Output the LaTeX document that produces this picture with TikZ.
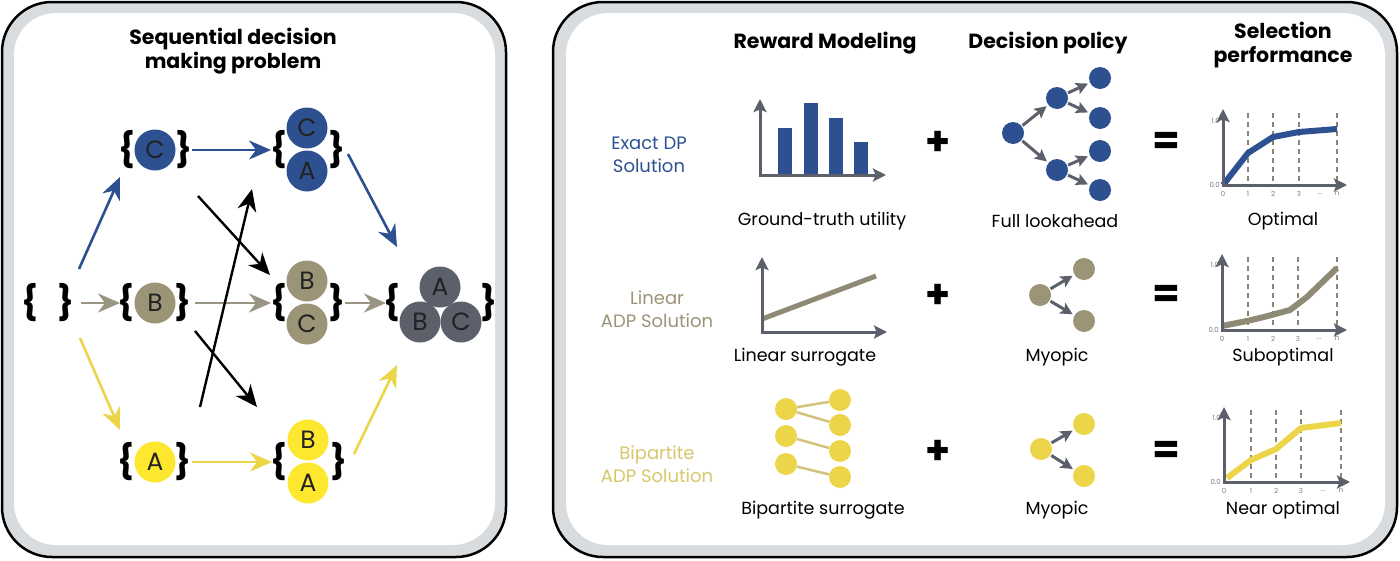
\documentclass[tikz,border=0pt]{standalone}
\usepackage{fontspec}
\setmainfont{Poppins}
\usetikzlibrary{arrows.meta}
\definecolor{blueC}{HTML}{2D5190}
\definecolor{khakiC}{HTML}{9C9476}
\definecolor{khakiA}{HTML}{9A9582}
\definecolor{yellowC}{HTML}{FDE82F}
\definecolor{yellowA}{HTML}{EDD54A}
\definecolor{darkC}{HTML}{5C606B}
\definecolor{bandC}{HTML}{D8DCDF}
\definecolor{dashC}{HTML}{8A8470}
\definecolor{lineK}{HTML}{8E8A76}
\definecolor{edgeY}{HTML}{D4C27C}
\definecolor{lblK}{HTML}{9C9476}
\definecolor{lblY}{HTML}{D8C66A}
\definecolor{txtC}{HTML}{222222}
\definecolor{tickC}{HTML}{7A7A7A}
\begin{document}
\begin{tikzpicture}[x=1pt,y=-1pt,
  brc/.style={inner sep=0pt, font=\fontsize{34}{34}\selectfont\bfseries},
  circ/.style={circle, inner sep=0pt, minimum size=41pt, font=\fontsize{25}{25}\selectfont, text=txtC},
  tipbig/.style={-{Stealth[length=22pt,width=19pt,inset=7pt]}},
  barrow/.style={tipbig, draw=blueC, line width=2.6pt},
  garrow/.style={tipbig, draw=khakiA, line width=2.6pt},
  yarrow/.style={tipbig, draw=yellowA, line width=2.6pt},
  karrow/.style={tipbig, draw=black, line width=2.4pt},
  ttl/.style={align=center, font=\fontsize{20.5}{23.5}\selectfont\bfseries},
  captxt/.style={font=\fontsize{17.5}{20}\selectfont},
  rowl/.style={align=center, font=\fontsize{18}{23.5}\selectfont},
  opsym/.style={font=\fontsize{40}{40}\selectfont\bfseries},
  axarr/.style={draw=darkC, line width=3pt, -{Stealth[length=13pt,width=13pt,inset=2.5pt]}},
  dotn/.style={circle, inner sep=0pt, minimum size=22pt},
  tarrow/.style={draw=darkC, line width=3pt, -{Stealth[length=12pt,width=12pt,inset=2.5pt]}, shorten >=2pt, shorten <=1pt},
  ticklbl/.style={font=\fontsize{7}{7}\selectfont, text=tickC, inner sep=0pt},
  vdash/.style={draw=dashC, line width=2.2pt, dash pattern=on 4.5pt off 4.5pt}
]
\useasboundingbox (0,0) rectangle (1400,560);
% ---------- panels
\draw[line width=2.5pt, fill=bandC, rounded corners=50pt] (2,2) rectangle (506,557);
\fill[white, rounded corners=42pt] (14,13) rectangle (495,545);
\draw[line width=2.5pt, fill=bandC, rounded corners=50pt] (553,2) rectangle (1397,557);
\fill[white, rounded corners=42pt] (566,13) rectangle (1385,545);

% ---------- left panel
\node[ttl] (title) at (233,51) {Sequential decision\\making problem};

% empty set
\node[brc] (e0l) at (30,303) {\{};
\node[brc] (e0r) at (66,303) {\}};
% {C}
\node[brc] (cL) at (127,150) {\{};
\node[circ, fill=blueC] (cC) at (155,150) {C};
\node[brc] (cR) at (184,150) {\}};
% {B}
\node[brc] (bL) at (126,303) {\{};
\node[circ, fill=khakiC] (bB) at (155,303) {B};
\node[brc] (bR) at (183,303) {\}};
% {A}
\node[brc] (aL) at (126,462) {\{};
\node[circ, fill=yellowC] (aA) at (155,462) {A};
\node[brc] (aR) at (183,462) {\}};
% {C,A}
\node[brc] (caL) at (279,150) {\{};
\node[circ, fill=blueC] (caC) at (307,128) {C};
\node[circ, fill=blueC] (caA) at (307,171) {A};
\node[brc] (caR) at (337,150) {\}};
% {B,C}
\node[brc] (bcL) at (279,303) {\{};
\node[circ, fill=khakiC] (bcB) at (307,281) {B};
\node[circ, fill=khakiC] (bcC) at (307,324) {C};
\node[brc] (bcR) at (337,303) {\}};
% {B,A}
\node[brc] (baL) at (279,462) {\{};
\node[circ, fill=yellowC] (baB) at (308,440) {B};
\node[circ, fill=yellowC] (baA) at (308,483) {A};
\node[brc] (baR) at (339,462) {\}};
% {A,B,C}
\node[brc] (abcL) at (392,303) {\{};
\node[circ, fill=darkC] (abcA) at (440,287) {A};
\node[circ, fill=darkC] (abcB) at (420,322) {B};
\node[circ, fill=darkC] (abcC) at (461,322) {C};
\node[brc] (abcR) at (489,303) {\}};

% horizontal arrows
\draw[garrow] ([xshift=15pt]e0r.center) -- ([xshift=-6pt]bL.center);
\draw[garrow] ([xshift=12pt]bR.center) -- ([xshift=-8pt]bcL.center);
\draw[garrow] ([xshift=8pt]bcR.center) -- ([xshift=-6pt]abcL.center);
\draw[barrow] ([xshift=8pt]cR.center) -- ([xshift=-8pt]caL.center);
\draw[yarrow] ([xshift=9pt]aR.center) -- ([xshift=-7pt]baL.center);
% diagonal coloured arrows
\draw[barrow] ([xshift=13pt,yshift=34pt]e0r.center) -- ([xshift=-7pt,yshift=-27pt]cL.center);
\draw[yarrow] ([xshift=14pt,yshift=-35pt]e0r.center) -- ([xshift=-6pt,yshift=32pt]aL.center);
\draw[barrow] ([xshift=11pt,yshift=-4pt]caR.center) -- ([xshift=5pt,yshift=56pt]abcL.center);
\draw[yarrow] ([xshift=15pt,yshift=8pt]baR.center) -- ([xshift=5pt,yshift=-62pt]abcL.center);
% black arrows
\draw[karrow] ([xshift=14pt,yshift=-46pt]cR.center) -- ([xshift=-9pt,yshift=28pt]bcL.center);
\draw[karrow] ([xshift=12pt,yshift=-28pt]bR.center) -- ([xshift=-22pt,yshift=55pt]baL.center);
\draw[karrow] ([xshift=17pt,yshift=55pt]aR.center) -- ([xshift=-27pt,yshift=-39pt]caL.center);

% ---------- right panel headers
\node[ttl] (h1) at (825,43) {Reward Modeling};
\node[ttl] (h2) at (1048,43) {Decision policy};
\node[ttl] (h3) at (1283,45) {Selection\\performance};

% row labels
\node[rowl, text=blueC] (r1) at (649,155) {Exact DP\\Solution};
\node[rowl, text=lblK] (r2) at (657,309) {Linear\\ADP Solution};
\node[rowl, text=lblY] (r3) at (657,464) {Bipartite\\ADP Solution};

% operators
\node[opsym] (p1) at (938,143) {+};
\node[opsym] (p2) at (938,296) {+};
\node[opsym] (p3) at (938,452) {+};
\node[opsym] (q1) at (1166,143) {=};
\node[opsym] (q2) at (1166,296) {=};
\node[opsym] (q3) at (1166,452) {=};

% captions
\node[captxt] (c11) at (822,221) {Ground-truth utility};
\node[captxt] (c12) at (1055,221) {Full lookahead};
\node[captxt] (c13) at (1283,221) {Optimal};
\node[captxt] (c21) at (805,357) {Linear surrogate};
\node[captxt] (c22) at (1057,357) {Myopic};
\node[captxt] (c23) at (1283,357) {Suboptimal};
\node[captxt] (c31) at (823,510) {Bipartite surrogate};
\node[captxt] (c32) at (1057,510) {Myopic};
\node[captxt] (c33) at (1283,510) {Near optimal};

% ---------- bar chart
\fill[blueC] (778,175) rectangle (792,128);
\fill[blueC] (804,175) rectangle (818,103);
\fill[blueC] (829,175) rectangle (843,118);
\fill[blueC] (854,175) rectangle (868,142);
\draw[axarr] (760,176.5) -- (760,99);
\draw[axarr] (758.5,175) -- (886,175);

% ---------- linear chart
\draw[draw=lineK, line width=5pt] (762,319) -- (876,276);
\draw[axarr] (762,333.5) -- (762,257);
\draw[axarr] (760.5,332) -- (887,332);

% ---------- bipartite
\node[dotn, fill=yellowA] (bl1) at (786,409) {};
\node[dotn, fill=yellowA] (bl2) at (786,436) {};
\node[dotn, fill=yellowA] (bl3) at (786,464) {};
\node[dotn, fill=yellowA] (br1) at (840,400) {};
\node[dotn, fill=yellowA] (br2) at (840,425) {};
\node[dotn, fill=yellowA] (br3) at (840,451) {};
\node[dotn, fill=yellowA] (br4) at (840,477) {};
\draw[draw=edgeY, line width=2.5pt] (bl1) -- (br1);
\draw[draw=edgeY, line width=2.5pt] (bl1) -- (br2);
\draw[draw=edgeY, line width=2.5pt] (bl2) -- (br3);
\draw[draw=edgeY, line width=2.5pt] (bl3) -- (br4);

% ---------- full lookahead tree
\node[dotn, fill=blueC] (t0) at (1013,133) {};
\node[dotn, fill=blueC] (t1) at (1057,98) {};
\node[dotn, fill=blueC] (t2) at (1057,170) {};
\node[dotn, fill=blueC] (t11) at (1100,78) {};
\node[dotn, fill=blueC] (t12) at (1100,118) {};
\node[dotn, fill=blueC] (t21) at (1100,151) {};
\node[dotn, fill=blueC] (t22) at (1100,190) {};
\draw[tarrow] (t0) -- (t1);
\draw[tarrow] (t0) -- (t2);
\draw[tarrow] (t1) -- (t11);
\draw[tarrow] (t1) -- (t12);
\draw[tarrow] (t2) -- (t21);
\draw[tarrow] (t2) -- (t22);

% ---------- myopic trees
\node[dotn, fill=khakiC] (m0) at (1040,295) {};
\node[dotn, fill=khakiC] (m1) at (1084,269) {};
\node[dotn, fill=khakiC] (m2) at (1084,321) {};
\draw[tarrow] (m0) -- (m1);
\draw[tarrow] (m0) -- (m2);
\node[dotn, fill=yellowA] (n0) at (1041,449) {};
\node[dotn, fill=yellowA] (n1) at (1084,424) {};
\node[dotn, fill=yellowA] (n2) at (1084,476) {};
\draw[tarrow] (n0) -- (n1);
\draw[tarrow] (n0) -- (n2);

% ---------- performance charts
\begin{scope}[shift={(1223,185)}]
  \foreach \xx in {25,50,76,114} \draw[vdash] (\xx,-72) -- (\xx,0);
  \draw[draw=blueC, line width=6pt, line join=round] (0,0) -- (25,-32) -- (50,-48) -- (76,-53) -- (114,-56);
  \draw[axarr] (0,1.5) -- (0,-76);
  \draw[axarr] (-1.5,0) -- (124,0);
  \node[ticklbl, anchor=east] (pa1) at (-3,-64) {1.0};
  \node[ticklbl, anchor=east] (pa0) at (-3,0) {0.0};
  \node[ticklbl] (px0) at (0,9) {0};
  \node[ticklbl] (px1) at (25,9) {1};
  \node[ticklbl] (px2) at (50,9) {2};
  \node[ticklbl] (px3) at (76,9) {3};
  \node[ticklbl] (pxd) at (97,9) {...};
  \node[ticklbl] (pxn) at (114,9) {n};
\end{scope}
\begin{scope}[shift={(1222,330)}]
  \foreach \xx in {26,51,76,115} \draw[vdash] (\xx,-73) -- (\xx,0);
  \draw[draw=lineK, line width=6pt, line join=round] (0,-4) -- (25,-9) -- (42,-13) -- (68,-20) -- (85,-33) -- (115,-62);
  \draw[axarr] (0,1.5) -- (0,-76);
  \draw[axarr] (-1.5,0) -- (125,0);
  \node[ticklbl, anchor=east] (qa1) at (-3,-65) {1.0};
  \node[ticklbl, anchor=east] (qa0) at (-3,0) {0.0};
  \node[ticklbl] (qx0) at (0,9) {0};
  \node[ticklbl] (qx1) at (26,9) {1};
  \node[ticklbl] (qx2) at (51,9) {2};
  \node[ticklbl] (qx3) at (76,9) {3};
  \node[ticklbl] (qxd) at (97,9) {...};
  \node[ticklbl] (qxn) at (115,9) {n};
\end{scope}
\begin{scope}[shift={(1224,482)}]
  \foreach \xx in {27,52,77,117} \draw[vdash] (\xx,-72) -- (\xx,0);
  \draw[draw=yellowA, line width=6pt, line join=round] (3,-4) -- (27,-22) -- (52,-33) -- (77,-54) -- (117,-59);
  \draw[axarr] (0,1.5) -- (0,-75);
  \draw[axarr] (-1.5,0) -- (126,0);
  \node[ticklbl, anchor=east] (ra1) at (-3,-64) {1.0};
  \node[ticklbl, anchor=east] (ra0) at (-3,0) {0.0};
  \node[ticklbl] (rx0) at (0,9) {0};
  \node[ticklbl] (rx1) at (27,9) {1};
  \node[ticklbl] (rx2) at (52,9) {2};
  \node[ticklbl] (rx3) at (77,9) {3};
  \node[ticklbl] (rxd) at (99,9) {...};
  \node[ticklbl] (rxn) at (117,9) {n};
\end{scope}
\end{tikzpicture}
\end{document}
